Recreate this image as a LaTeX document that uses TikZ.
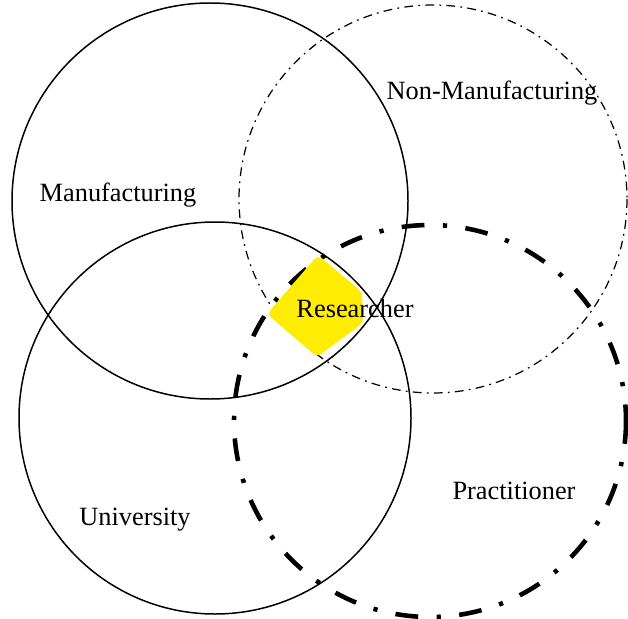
\documentclass[tikz,border=0pt]{standalone}
\usepackage{fontspec}
\setmainfont{Liberation Serif}
\tikzstyle{set}=[line width=0.85pt]
\tikzstyle{thinset}=[line width=0.7pt,dash pattern=on 5pt off 3pt on 1pt off 3pt]
\tikzstyle{thickset}=[line width=2.6pt,dash pattern=on 13pt off 10.5pt on 2.4pt off 10.5pt]
\tikzstyle{lbl}=[font=\fontsize{15}{18}\selectfont,inner sep=0pt]

\begin{document}
\begin{tikzpicture}[x=0.02cm,y=-0.02cm]
	\useasboundingbox (0,0) rectangle (628,618);
	\coordinate (M) at (210,201);
	\coordinate (NM) at (433,199);
	\coordinate (U) at (215,418);
	\coordinate (P) at (430,421);
	\draw[set] (M) circle (198);
	\draw[thinset] (NM) circle (194);
	\draw[set] (U) circle (196);
	\draw[thickset] (P) circle (196);
	% the core where all four sets meet
	\fill[yellow!95!orange,rounded corners=3pt] (318,255) -- (362,292) -- (363,323) -- (317,357) -- (267,314) -- cycle;
	\node[lbl] (manu) at (118,195) {Manufacturing};
	\node[lbl] (nonmanu) at (492,93) {Non-Manufacturing};
	\node[lbl] (uni) at (135,520) {University};
	\node[lbl] (prac) at (514,491) {Practitioner};
	\node[lbl] (res) at (355,308) {Researcher};
\end{tikzpicture}
\end{document}
